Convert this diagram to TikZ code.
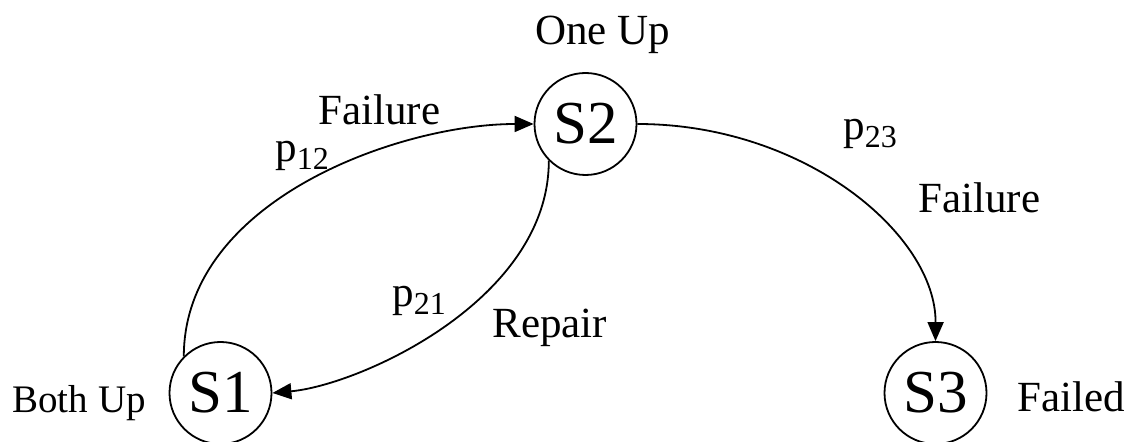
\documentclass[tikz,border=0pt]{standalone}
\usepackage{fontspec}
\setmainfont{Liberation Serif}
\usetikzlibrary{arrows.meta, positioning}

\newcommand{\probsub}[1]{\raisebox{-4pt}{\fontsize{16}{16}\selectfont #1}}

\tikzset{
  state/.style={draw, circle, line width=0.9pt, minimum size=51pt, inner sep=0pt, font=\fontsize{30.5}{30.5}\selectfont},
  lbl/.style={anchor=base west, inner sep=0pt, font=\fontsize{21.5}{21.5}\selectfont},
  trans/.style={line width=0.9pt, -{Triangle[length=9.5pt, width=8pt]}}
}

\begin{document}
\begin{tikzpicture}[x=0.5pt, y=-0.5pt]
  \useasboundingbox (0,0) rectangle (1129,442);

  % States
  \node[state] (s1) at (220.5,393) {S1};
  \node[state] (s2) at (585.5,124) {S2};
  \node[state] (s3) at (935.5,393) {S3};

  % State names
  \node[lbl, font=\fontsize{19.5}{19.5}\selectfont] (bothup) at (12,413) {Both Up};
  \node[lbl] (oneup) at (535,45) {One Up};
  \node[lbl] (failed) at (1017,412) {Failed};

  % Transitions
  \draw[trans] (s1.135) .. controls (184,200) and (400,124) .. (s2.west);
  \draw[trans] (s2.225) .. controls (549,300) and (360,385) .. (s1.east);
  \draw[trans] (s2.east) .. controls (805,124) and (936,235) .. (s3.north);

  % Transition labels
  \node[lbl] (fail12) at (318,125) {Failure};
  \node[lbl] (p12) at (275,162) {p\probsub{12}};
  \node[lbl] (p21) at (392,307) {p\probsub{21}};
  \node[lbl] (repair) at (492,338) {Repair};
  \node[lbl] (p23) at (843,140) {p\probsub{23}};
  \node[lbl] (fail23) at (918,213) {Failure};
\end{tikzpicture}
\end{document}
